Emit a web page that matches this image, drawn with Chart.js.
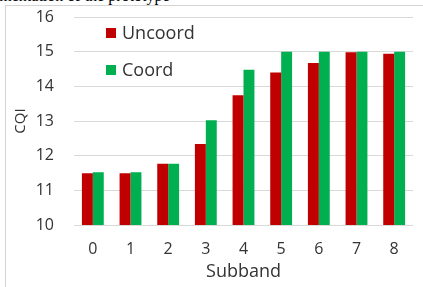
<!DOCTYPE html>
<html>
<head>
<meta charset="utf-8">
<script src="https://cdn.jsdelivr.net/npm/chart.js@4"></script>
<style>
  html, body { margin: 0; padding: 0; background: #fff; overflow: hidden; }
  #caption {
    position: absolute; left: -38px; top: -13px;
    font: 16px "Liberation Serif", serif; color: #000; white-space: nowrap;
  }
  #frame {
    position: absolute; left: 5px; top: 5px; width: 430px; height: 300px;
    border-left: 1px solid #d4d4d4; border-top: 1px solid #d4d4d4;
  }
  #wrap { position: absolute; left: 0; top: 0; width: 423px; height: 287px; }
</style>
</head>
<body>
<div id="caption">Implementation of the prototype</div>
<div id="frame"></div>
<div id="wrap"><canvas id="cqi-chart"></canvas></div>
<script>
const subbands = ['0', '1', '2', '3', '4', '5', '6', '7', '8'];
const uncoord = [11.49, 11.49, 11.77, 12.34, 13.74, 14.40, 14.67, 14.98, 14.94];
const coord = [11.52, 11.52, 11.77, 13.02, 14.48, 15.0, 15.0, 15.0, 15.0];

const textColor = '#333333';
const font = 'Open Sans';

// legend sits inside the plot, top left, one entry per row
const innerLegend = {
    id: 'innerLegend',
    afterDraw(chart) {
        const c = chart.ctx;
        const rows = [33, 70];
        c.save();
        c.font = '18px "' + font + '"';
        c.textBaseline = 'middle';
        chart.data.datasets.forEach((ds, i) => {
            c.fillStyle = ds.backgroundColor;
            c.fillRect(106, rows[i] - 5, 10, 10);
            c.fillStyle = textColor;
            c.fillText(ds.label, 122, rows[i] + 1);
        });
        c.restore();
    }
};

new Chart(document.getElementById('cqi-chart'), {
    type: 'bar',
    plugins: [innerLegend],
    data: {
        labels: subbands,
        datasets: [
            { label: 'Uncoord', data: uncoord, backgroundColor: '#c00000' },
            { label: 'Coord', data: coord, backgroundColor: '#00b050' }
        ]
    },
    options: {
        responsive: true,
        maintainAspectRatio: false,
        animation: false,
        layout: { padding: { left: 12, right: 10, top: 17, bottom: 4 } },
        datasets: {
            bar: { barPercentage: 1, categoryPercentage: 0.58 }
        },
        plugins: {
            legend: { display: false },
            tooltip: { enabled: false }
        },
        scales: {
            x: {
                grid: { display: false, drawTicks: false },
                border: { display: false },
                ticks: { color: textColor, font: { family: font, size: 16, lineHeight: 1.2 }, padding: 15 },
                title: {
                    display: true, text: 'Subband', color: textColor,
                    font: { family: font, size: 18, lineHeight: 1.2 }, padding: { top: 0, bottom: 0 }
                },
                afterFit(scale) { scale.height = 58; }
            },
            y: {
                min: 10,
                max: 16,
                grid: { color: '#d9d9d9', drawTicks: false },
                border: { display: false },
                ticks: { stepSize: 1, color: textColor, font: { family: font, size: 16 }, padding: 20 },
                title: {
                    display: true, text: 'CQI', color: textColor,
                    font: { family: font, size: 15 }, padding: { top: 0, bottom: 0 }
                },
                afterFit(scale) {
                    scale.width = 62;
                    scale.paddingTop = 0;
                    scale.paddingBottom = 0;
                }
            }
        }
    }
});
</script>
</body>
</html>
